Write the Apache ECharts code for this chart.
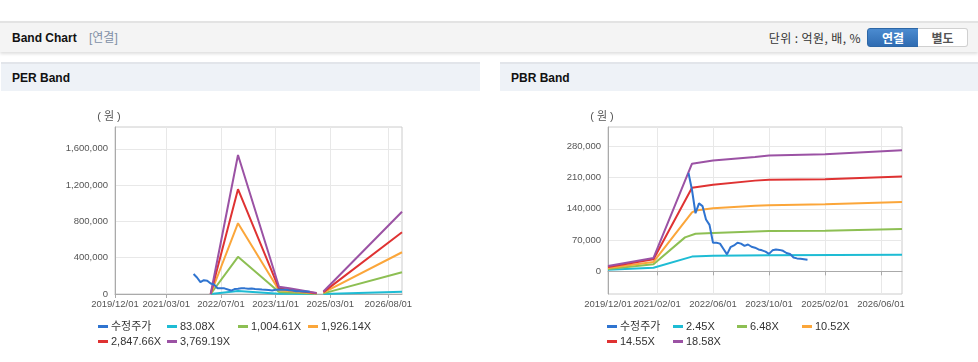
<!DOCTYPE html>
<html><head><meta charset="utf-8">
<script src="https://cdn.jsdelivr.net/npm/echarts@6/dist/echarts.min.js"></script>
<style>
html,body{margin:0;padding:0;width:978px;height:362px;overflow:hidden;background:#fff;font-family:"Liberation Sans","Noto Sans CJK KR",sans-serif;}
.abs{position:absolute;}
#hdr{left:0;top:21px;width:978px;height:29px;background:#f4f4f4;border-top:2px solid #e3e3e3;box-shadow:0 2px 3px rgba(0,0,0,0.13);}
#ttl{left:12px;top:30px;font-size:12px;font-weight:bold;color:#111;line-height:16px;}
#sub{left:89px;top:30px;font-size:12px;color:#8190a6;line-height:16px;font-family:"Liberation Sans","Noto Sans CJK KR",sans-serif;}
#unit{left:730px;width:131px;text-align:right;top:30px;font-size:12px;color:#333;line-height:16px;letter-spacing:0.4px;font-family:"Noto Sans CJK KR",sans-serif;}
#b1{left:867px;top:28px;width:50px;height:17px;background:linear-gradient(#4b8bd0,#2f6cb2);border:1px solid #2d67a6;border-radius:3px 0 0 3px;color:#fff;font-weight:bold;font-size:12px;line-height:17px;text-align:center;font-family:"Noto Sans CJK KR",sans-serif;}
#b2{left:918px;top:28px;width:49px;height:17px;background:#fff;border:1px solid #d0d0d0;border-left:none;border-radius:0 3px 3px 0;color:#555;font-weight:bold;font-size:12px;line-height:17px;text-align:center;font-family:"Noto Sans CJK KR",sans-serif;}
.pt{top:62px;height:27px;background:#eef2f7;border-top:2px solid #e2e5ea;}
.ptt{top:70px;font-size:12px;font-weight:bold;color:#111;line-height:16px;}
#chart{left:0;top:0;width:978px;height:362px;z-index:2;}
</style></head>
<body>
<div id="hdr" class="abs"></div>
<div id="ttl" class="abs">Band Chart</div>
<div id="sub" class="abs">[연결]</div>
<div id="unit" class="abs">단위 : 억원, 배, %</div>
<div id="b1" class="abs">연결</div>
<div id="b2" class="abs">별도</div>
<div class="abs pt" style="left:1px;width:479px;"></div>
<div class="abs pt" style="left:500px;width:478px;"></div>
<div class="abs ptt" style="left:12px;">PER Band</div>
<div class="abs ptt" style="left:511px;">PBR Band</div>
<div id="chart" class="abs"></div>
<script>
// ---- categories (monthly, 2019/12 .. 2026/12)
const months = [];
for (let y = 2019, m = 12; !(y === 2027 && m === 1);) {
  months.push(y + '/' + String(m).padStart(2, '0') + '/01');
  m++; if (m > 12) { m = 1; y++; }
}
const perTickLabels = ['2019/12/01','2021/03/01','2022/07/01','2023/11/01','2025/03/01','2026/08/01'];
const pbrTickLabels = ['2019/12/01','2021/02/01','2022/06/01','2023/10/01','2025/02/01','2026/06/01'];
const perYTicks = [0, 400000, 800000, 1200000, 1600000];
const pbrYTicks = [0, 70000, 140000, 210000, 280000];

// ---- adjusted price (수정주가), monthly from 2021/11/01
const priceStart = '2021/11/01';
const priceValues = [220000,182000,130000,152000,146000,116000,104000,64000,64000,62000,50000,38000,54000,58000,64000,62000,57000,60000,55000,53000,49000,47000,44000,39000,47000,49000,48000,46000,41000,39000,31000,29000,28000,27000,26000];

// ---- PER band lines [date, value]
const perNames = ['83.08X','1,004.61X','1,926.14X','2,847.66X','3,769.19X'];
const per1 = [['2022/04/01',0],['2022/12/01',34000],['2023/12/01',2000],['2024/03/01',1400],['2024/11/01',300],['2024/12/01','-'],['2025/01/01',600],['2026/12/01',25000]];
const per2 = [['2022/04/01',0],['2022/12/01',410000],['2023/12/01',21000],['2024/03/01',17000],['2024/11/01',3000],['2024/12/01','-'],['2025/01/01',7000],['2026/12/01',240000]];
const per3 = [['2022/04/01',0],['2022/12/01',780000],['2023/12/01',41000],['2024/03/01',32000],['2024/11/01',6000],['2024/12/01','-'],['2025/01/01',14000],['2026/12/01',460000]];
const per4 = [['2022/04/01',0],['2022/12/01',1155000],['2023/12/01',60000],['2024/03/01',48000],['2024/11/01',9000],['2024/12/01','-'],['2025/01/01',21000],['2026/12/01',680000]];
const per5 = [['2022/04/01',0],['2022/12/01',1532000],['2023/12/01',80000],['2024/03/01',63000],['2024/11/01',12000],['2024/12/01','-'],['2025/01/01',28000],['2026/12/01',907000]];

// ---- PBR band lines [date, value]
const pbrNames = ['2.45X','6.48X','10.52X','14.55X','18.58X'];
const pbr1 = [['2019/12/01',3600],['2021/01/01',8000],['2021/12/01',33000],['2022/06/01',35000],['2023/10/01',36000],['2026/12/01',37000]];
const pbr2 = [['2019/12/01',5000],['2021/01/01',16000],['2021/10/01',76000],['2022/01/01',84000],['2022/06/01',86000],['2023/10/01',90000],['2025/02/01',91000],['2026/12/01',95000]];
const pbr3 = [['2019/12/01',7500],['2021/01/01',21000],['2021/12/01',132000],['2022/01/01',136000],['2022/06/01',141000],['2023/06/01',147000],['2023/10/01',148000],['2025/02/01',150000],['2026/12/01',155000]];
const pbr4 = [['2019/12/01',9600],['2021/01/01',27000],['2021/12/01',187000],['2022/06/01',194000],['2023/06/01',203000],['2023/10/01',205000],['2025/02/01',206000],['2026/12/01',212000]];
const pbr5 = [['2019/12/01',12000],['2021/01/01',30000],['2021/12/01',241000],['2022/06/01',248000],['2023/06/01',256000],['2023/10/01',259000],['2025/02/01',262000],['2026/12/01',271000]];

const priceColor = '#2f74d0';
const bandColors = ['#1ebcd4','#8dbf53','#fba63a','#df3232','#9b52a4'];

const i0 = months.indexOf(priceStart);
const priceData = priceValues.map((v, i) => [months[i0 + i], v]);

const labelFont = "'Liberation Sans',sans-serif";
function xAxisFor(gi, labels) {
  const show = (idx, val) => labels.indexOf(val) >= 0;
  return {
    type: 'category', gridIndex: gi, data: months, boundaryGap: false,
    axisLine: { lineStyle: { color: '#aaa' } },
    axisTick: { show: true, interval: show, length: 4, lineStyle: { color: '#aaa' } },
    axisLabel: { interval: show, color: '#555', fontSize: 9.5, fontFamily: labelFont, margin: 5,
      hideOverlap: false, showMinLabel: true, showMaxLabel: true },
    splitLine: { show: true, interval: show, lineStyle: { color: '#e8e8e8' } }
  };
}
function yAxisFor(gi, min, max, ticks) {
  return {
    type: 'value', gridIndex: gi, min: min, max: max,
    name: '( 원 )', nameLocation: 'end', nameGap: 5,
    nameTextStyle: { color: '#555', fontSize: 11, fontFamily: "'Liberation Sans','Noto Sans CJK KR',sans-serif", align: 'center', padding: [0, 12, 0, 0] },
    axisLine: { show: true, lineStyle: { color: '#aaa' } },
    axisTick: { show: false, customValues: ticks },
    axisLabel: { customValues: ticks, color: '#555', fontSize: 9.5, fontFamily: labelFont, margin: 7,
      formatter: v => v.toLocaleString('en-US') },
    splitLine: { show: true, lineStyle: { color: '#e8e8e8' } }
  };
}
function line(name, data, color, gi, z) {
  return { type: 'line', name: name, data: data, xAxisIndex: gi, yAxisIndex: gi, showSymbol: false,
    symbol: 'none', color: color, lineStyle: { width: 2, color: color }, z: z, animation: false, connectNulls: false };
}
const series = [];
[per1, per2, per3, per4, per5].forEach((d, i) => series.push(line(perNames[i], d, bandColors[i], 0, 2)));
series.push(line('수정주가', priceData, priceColor, 0, 3));
[pbr1, pbr2, pbr3, pbr4, pbr5].forEach((d, i) => series.push(line(pbrNames[i], d, bandColors[i], 1, 2)));
series.push(line('수정주가', priceData, priceColor, 1, 3));

const legendFont = "'Liberation Sans','Noto Sans CJK KR',sans-serif";
const legendItems = [
  ['수정주가', 98, 321], ['83.08X', 167, 321], ['1,004.61X', 238, 321], ['1,926.14X', 308, 321],
  ['2,847.66X', 98, 336], ['3,769.19X', 167, 336],
  ['수정주가', 607, 321], ['2.45X', 673, 321], ['6.48X', 737, 321], ['10.52X', 802, 321],
  ['14.55X', 607, 336], ['18.58X', 673, 336]
];
const legends = legendItems.map(([n, x, y]) => ({
  data: [n], left: x, top: y, padding: 0, icon: 'rect', itemWidth: 10, itemHeight: 3, itemGap: 0,
  selectedMode: false, textStyle: { color: '#333', fontSize: 11, fontFamily: legendFont, padding: [0, 0, 0, -2] }
}));

const chart = echarts.init(document.getElementById('chart'), null, { renderer: 'canvas' });
chart.setOption({
  animation: false,
  backgroundColor: 'transparent',
  grid: [
    { left: 115, top: 127, width: 287, height: 167, show: true, borderColor: '#ccc', borderWidth: 1, backgroundColor: '#fff' },
    { left: 608, top: 127, width: 294, height: 167, show: true, borderColor: '#ccc', borderWidth: 1, backgroundColor: '#fff' }
  ],
  xAxis: [xAxisFor(0, perTickLabels), xAxisFor(1, pbrTickLabels)],
  yAxis: [yAxisFor(0, 0, 1840000, perYTicks), yAxisFor(1, -50700, 323000, pbrYTicks)],
  legend: legends,
  series: series
});
</script>
</body></html>
